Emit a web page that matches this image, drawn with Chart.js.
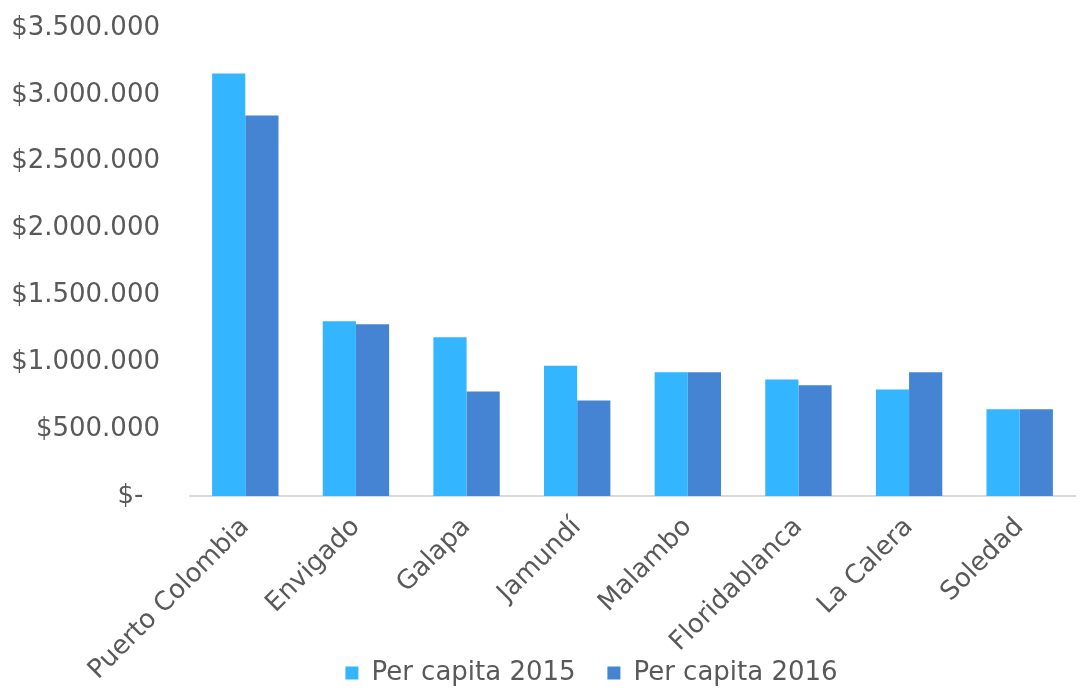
<!DOCTYPE html>
<html>
<head>
<meta charset="utf-8">
<script src="https://cdn.jsdelivr.net/npm/chart.js@4/dist/chart.umd.min.js"></script>
<style>
  html, body { margin: 0; padding: 0; background: #fff; }
  #wrap { width: 1091px; height: 690px; }
</style>
</head>
<body>
<div id="wrap"><canvas id="perCapitaChart"></canvas></div>
<script>
// data
const municipios = ["Puerto Colombia", "Envigado", "Galapa", "Jamundí", "Malambo", "Floridablanca", "La Calera", "Soledad"];
const perCapita2015 = [3160000, 1306000, 1187000, 975000, 925000, 871000, 796000, 649000];
const perCapita2016 = [2845000, 1284000, 781000, 714000, 925000, 828000, 925000, 649000];
const seriesNames = ["Per capita 2015", "Per capita 2016"];
const yMax = 3500000;
const yStep = 500000;

const textColor = "#595959";
const fontFamily = "'DejaVu Sans', 'Noto Sans', sans-serif";

// Utility: 1500000 -> "$1.500.000", 0 -> "$-"
function formatPeso(v) {
  if (v === 0) return "$-  ";
  return "$" + String(v).replace(/\B(?=(\d{3})+(?!\d))/g, ".");
}

// let the rotated x labels run into the legend strip,
// and nudge the legend right/down like in the original
const layoutTweaks = {
  id: "layoutTweaks",
  afterLayout(chart) {
    const x = chart.scales.x;
    x.bottom = chart.height;
    const lg = chart.legend;
    if (!lg) return;
    lg.left += 54;
    lg.right += 54;
    lg.top += 6;
    lg.bottom += 6;
  },
};

const ctx = document.getElementById("perCapitaChart");
let perCapitaChart = new Chart(ctx, {
  type: "bar",
  data: {
    labels: municipios,
    datasets: [
      {
        label: seriesNames[0],
        data: perCapita2015,
        backgroundColor: "#33B5FF",
        borderWidth: 0,
      },
      {
        label: seriesNames[1],
        data: perCapita2016,
        backgroundColor: "#4584D3",
        borderWidth: 0,
      },
    ],
  },
  options: {
    responsive: true,
    maintainAspectRatio: false,
    animation: false,
    layout: {
      padding: { top: 28, right: 16, left: 0, bottom: 0 },
    },
    datasets: {
      bar: { barPercentage: 1.0, categoryPercentage: 0.6 },
    },
    plugins: {
      legend: {
        position: "bottom",
        labels: {
          color: textColor,
          font: { family: fontFamily, size: 26 },
          boxWidth: 13,
          boxHeight: 13,
          padding: 7,
          generateLabels(chart) {
            const items = Chart.defaults.plugins.legend.labels.generateLabels(chart);
            items[0].text += "   "; // wider gap between the two entries
            return items;
          },
        },
      },
      tooltip: { enabled: false },
    },
    scales: {
      x: {
        grid: { display: false, drawTicks: false },
        border: { display: true, color: "#d9d9d9", width: 2 },
        ticks: {
          color: textColor,
          font: { family: fontFamily, size: 26 },
          maxRotation: 45,
          minRotation: 45,
          padding: 16,
          autoSkip: false,
        },
        afterFit(scale) {
          scale.height = 151;
        },
      },
      y: {
        min: 0,
        max: yMax,
        grid: { display: false, drawTicks: false },
        border: { display: false },
        ticks: {
          stepSize: yStep,
          color: textColor,
          font: { family: fontFamily, size: 26 },
          padding: 30,
          callback: (v) => formatPeso(v),
        },
        afterFit(scale) {
          scale.width = 190;
          // tick padding would otherwise push the plot top down
          scale.paddingTop = 0;
          scale.paddingBottom = 0;
        },
      },
    },
  },
  plugins: [layoutTweaks],
});
</script>
</body>
</html>
